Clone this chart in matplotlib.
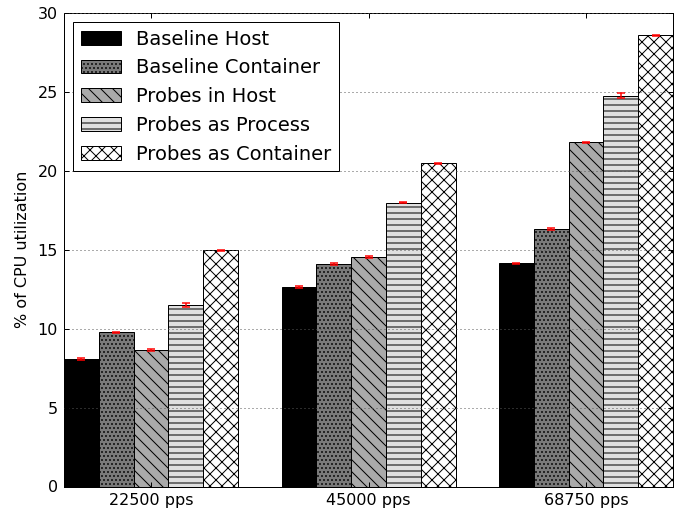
import matplotlib
matplotlib.use("Agg")
import matplotlib.pyplot as plt
import numpy as np

plt.rcParams['font.family'] = ['DejaVu Sans']
plt.rcParams['hatch.linewidth'] = 1.0

categories = ["22500 pps", "45000 pps", "68750 pps"]
series_names = ["Baseline Host", "Baseline Container", "Probes in Host",
                "Probes as Process", "Probes as Container"]
baseline_host = [8.08, 12.64, 14.15]
baseline_container = [9.76, 14.10, 16.30]
probes_in_host = [8.64, 14.55, 21.80]
probes_as_process = [11.49, 17.99, 24.75]
probes_as_container = [14.98, 20.47, 28.60]

err_baseline_host = [0.04, 0.05, 0.03]
err_baseline_container = [0.05, 0.08, 0.05]
err_probes_in_host = [0.08, 0.05, 0.03]
err_probes_as_process = [0.12, 0.03, 0.15]
err_probes_as_container = [0.03, 0.05, 0.03]

values = [baseline_host, baseline_container, probes_in_host,
          probes_as_process, probes_as_container]
errors = [err_baseline_host, err_baseline_container, err_probes_in_host,
          err_probes_as_process, err_probes_as_container]
facecolors = ['black', '#7a7a7a', '#aaaaaa', '#e0e0e0', 'white']
hatches = [None, '...', '\\\\', '--', 'xx']

dpi = 72
fig = plt.figure(figsize=(686 / dpi, 509 / dpi), dpi=dpi)
ax = fig.add_axes([64 / 686, 1 - 486.5 / 509, (673 - 64) / 686, (486.5 - 13) / 509])

ind = np.arange(len(categories))
width = 0.16
for i, (vals, errs) in enumerate(zip(values, errors)):
    ax.bar(ind + i * width, vals, width, align='edge', color=facecolors[i],
           edgecolor='black', linewidth=1.0, hatch=hatches[i],
           label=series_names[i], zorder=2)
    ax.errorbar(ind + i * width + width / 2, vals, yerr=errs, fmt='none',
                ecolor='red', elinewidth=1.5, capsize=4, capthick=1.5, zorder=4)

ax.set_xlim(0, ind[-1] + 5 * width)
ax.set_ylim(0, 30)
ax.set_yticks(np.arange(0, 31, 5))
ax.set_xticks(ind + 2.5 * width)
ax.set_xticklabels(categories)
ax.tick_params(direction='in', length=5, width=1, top=True, right=True,
               labelsize=16, pad=6)
ax.yaxis.grid(True, color='0.35', linestyle=(0, (1, 3)), linewidth=1.0, zorder=3)
ax.set_axisbelow(False)
ax.set_ylabel("% of CPU utilization", fontsize=16, labelpad=8)
for s in ax.spines.values():
    s.set_linewidth(1.0)

leg = ax.legend(loc='upper left', fontsize=19.5, fancybox=False, framealpha=1,
                edgecolor='black', handlelength=2.05, handleheight=0.7,
                labelspacing=0.5, borderpad=0.4, handletextpad=0.8,
                borderaxespad=0.45)
leg.get_frame().set_linewidth(1.0)
leg.set_zorder(5)

fig.savefig("out.png", dpi=dpi)
